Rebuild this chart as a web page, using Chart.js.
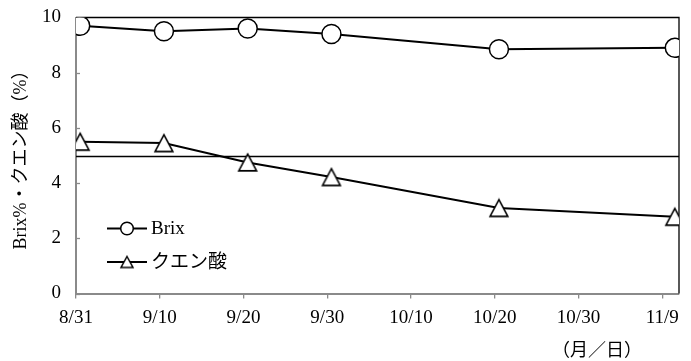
<!DOCTYPE html>
<html><head><meta charset="utf-8">
<script src="https://cdn.jsdelivr.net/npm/chart.js@4"></script>
<style>html,body{margin:0;padding:0;background:#fff}</style>
</head><body>
<canvas id="c" width="691" height="361"></canvas>
<script>
// Sampling days, counted from 8/31
const sampleDays = [0, 10, 20, 30, 50, 71];
const brixValues = [9.7, 9.5, 9.6, 9.4, 8.85, 8.9];
const citricValues = [5.5, 5.45, 4.75, 4.22, 3.1, 2.78];
const tickDays = [0, 10, 20, 30, 40, 50, 60, 70];
const tickLabels = ['8/31', '9/10', '9/20', '9/30', '10/10', '10/20', '10/30', '11/9'];
const seriesNames = ['Brix', 'クエン酸'];
const yAxisTitle = 'Brix%・クエン酸（%）';
const xAxisUnit = '（月／日）';
const referenceLevel = 5;
const axisEndDay = 72;

const FONT = '"Liberation Serif", "Noto Sans CJK JP", serif';
const AXIS_GRAY = '#8a8a8a';

// open triangle marker, centred on its bounding box
function triangleMarker(w, h, lw) {
  const c = document.createElement('canvas');
  c.width = w; c.height = h;
  const g = c.getContext('2d');
  g.lineWidth = lw; g.strokeStyle = '#000'; g.fillStyle = '#fff'; g.lineJoin = 'miter';
  const m = lw + 0.5;
  g.beginPath();
  g.moveTo(w / 2, m);
  g.lineTo(w - m, h - m);
  g.lineTo(m, h - m);
  g.closePath(); g.fill(); g.stroke();
  return c;
}
const triBig = triangleMarker(22, 21, 1.6);
const triSmall = triangleMarker(16, 15, 1.5);

// data points sit in the middle of their day
const toPoints = vals => sampleDays.map((d, i) => ({ x: d + 0.5, y: vals[i] }));

// keep the plot frame where the layout padding puts it
const noScalePadding = s => {
  s.paddingTop = 0; s.paddingBottom = 0; s.paddingLeft = 0; s.paddingRight = 0;
};

const decorations = {
  id: 'decorations',
  beforeDatasetsDraw(chart) {
    const { ctx, chartArea: a, scales: { y } } = chart;
    ctx.save();
    // reference level line
    const ry = Math.round(y.getPixelForValue(referenceLevel)) + 0.5;
    ctx.strokeStyle = '#000'; ctx.lineWidth = 1.3;
    ctx.beginPath(); ctx.moveTo(a.left, ry); ctx.lineTo(a.right, ry); ctx.stroke();
    // top and right frame
    ctx.beginPath();
    ctx.moveTo(a.left, a.top); ctx.lineTo(a.right, a.top); ctx.lineTo(a.right, a.bottom);
    ctx.stroke();
    // inward y tick marks
    ctx.strokeStyle = AXIS_GRAY; ctx.lineWidth = 1.3;
    y.ticks.forEach(t => {
      const py = Math.round(y.getPixelForValue(t.value)) + 0.5;
      ctx.beginPath(); ctx.moveTo(a.left, py); ctx.lineTo(a.left + 4, py); ctx.stroke();
    });
    ctx.restore();
  },
  afterDraw(chart) {
    const { ctx, chartArea: a } = chart;
    ctx.save();
    ctx.fillStyle = '#000';
    ctx.font = '18px ' + FONT;
    // y axis title
    ctx.save();
    ctx.translate(21, (a.top + a.bottom) / 2);
    ctx.rotate(-Math.PI / 2);
    ctx.textAlign = 'center'; ctx.textBaseline = 'middle';
    ctx.fillText(yAxisTitle, 0, 0);
    ctx.restore();
    // x unit label
    ctx.textAlign = 'center'; ctx.textBaseline = 'middle';
    ctx.fillText(xAxisUnit, a.right - 82, a.bottom + 58);
    // legend
    const lx = a.left + 31, rows = [a.top + 211, a.top + 244.5];
    ctx.font = '19px ' + FONT;
    chart.data.datasets.forEach((ds, i) => {
      const ly = rows[i];
      ctx.strokeStyle = '#000'; ctx.lineWidth = 2;
      ctx.beginPath(); ctx.moveTo(lx, ly); ctx.lineTo(lx + 40, ly); ctx.stroke();
      if (i === 0) {
        ctx.fillStyle = '#fff'; ctx.lineWidth = 1.5;
        ctx.beginPath(); ctx.arc(lx + 20, ly, 6.3, 0, Math.PI * 2); ctx.fill(); ctx.stroke();
      } else {
        ctx.drawImage(triSmall, lx + 20 - triSmall.width / 2, ly - triSmall.height / 2);
      }
      ctx.fillStyle = '#000';
      ctx.textAlign = 'left';
      ctx.fillText(ds.label, lx + 44, ly + 1);
    });
    ctx.restore();
  }
};

new Chart(document.getElementById('c'), {
  type: 'line',
  data: {
    datasets: [
      {
        label: seriesNames[0], data: toPoints(brixValues),
        borderColor: '#000', borderWidth: 2, tension: 0,
        pointStyle: 'circle', pointRadius: 9.5, pointBorderWidth: 1.5,
        pointBackgroundColor: '#fff', pointBorderColor: '#000'
      },
      {
        label: seriesNames[1], data: toPoints(citricValues),
        borderColor: '#000', borderWidth: 2, tension: 0,
        pointStyle: triBig, pointRadius: 10,
        pointBackgroundColor: '#fff', pointBorderColor: '#000'
      }
    ]
  },
  options: {
    responsive: false, animation: false, devicePixelRatio: 1,
    layout: { padding: { left: 0, right: 8, top: 17.5, bottom: 0 } },
    plugins: { legend: { display: false }, tooltip: { enabled: false } },
    scales: {
      x: {
        type: 'linear', min: 0, max: axisEndDay,
        afterBuildTicks: s => { s.ticks = tickDays.map(v => ({ value: v })); },
        afterFit: s => { s.height = 67.5; noScalePadding(s); },
        ticks: {
          autoSkip: false, maxRotation: 0, padding: 8, color: '#000',
          font: { family: FONT, size: 19 },
          callback: v => tickLabels[tickDays.indexOf(v)]
        },
        grid: { drawOnChartArea: false, drawTicks: true, tickLength: 5, color: AXIS_GRAY, lineWidth: 1.3 },
        border: { color: AXIS_GRAY, width: 2 }
      },
      y: {
        min: 0, max: 10,
        afterFit: s => { s.width = 76; noScalePadding(s); },
        ticks: { stepSize: 2, padding: 15, color: '#000', font: { family: FONT, size: 19 } },
        grid: { drawOnChartArea: false, drawTicks: false },
        border: { color: AXIS_GRAY, width: 2 }
      }
    }
  },
  plugins: [decorations]
});
</script>
</body></html>
